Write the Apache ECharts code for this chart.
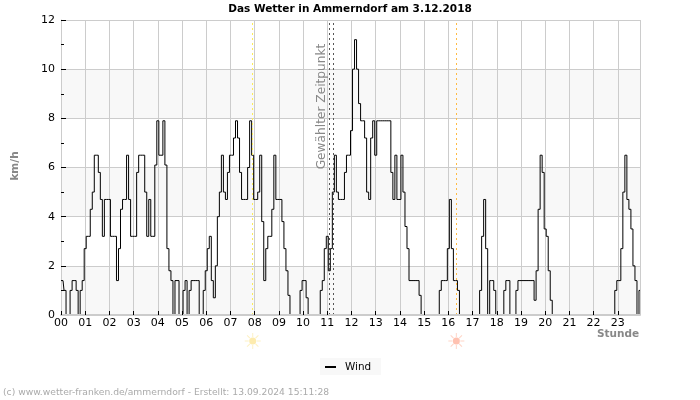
<!DOCTYPE html>
<html><head><meta charset="utf-8">
<script src="https://cdn.jsdelivr.net/npm/echarts@6/dist/echarts.min.js"></script>
<style>html,body{margin:0;padding:0;background:#fff}#c{width:700px;height:400px}</style>
</head><body><div id="c"></div>
<script>
const titleText = 'Das Wetter in Ammerndorf am 3.12.2018';
const seriesName = 'Wind';
const yTicks = [0, 2, 4, 6, 8, 10, 12];
const sunTimes = [7.92, 16.33];
const selectedTimes = [11.08, 11.25];
// wind in km/h, one value every 5 minutes
const windValues = [
 1.4,1.4,1.0,0,0,1.0,1.4,1.4,1.0,0,1.0,1.4,
 2.7,3.2,3.2,4.3,5,6.5,6.5,5.8,4.7,3.2,4.7,4.7,
 4.7,3.2,3.2,3.2,1.4,2.7,4.3,4.7,4.7,6.5,4.7,3.2,
 3.2,3.2,5.8,6.5,6.5,6.5,5,3.2,4.7,3.2,3.2,6.1,
 7.9,6.5,6.5,7.9,6.1,2.7,1.8,1.4,0,1.4,1.4,0,
 0,1.0,1.4,0,1.0,1.4,1.4,1.4,1.4,0,0,1.0,
 1.8,2.7,3.2,1.4,0.7,2,4,5,6.5,5,4.7,5.8,
 6.5,6.5,7.2,7.9,7.2,5.8,4.7,4.7,4.7,6,7.9,6.5,
 4.7,4.7,5,6.5,3.8,1.4,2.7,3.2,3.2,4.3,6.5,4.7,
 4.7,4.7,3.8,2.7,1.8,0.8,0,0,0,0,0,1.0,
 1.4,1.4,0.7,0,0,0,0,0,0,1.0,1.4,
 2.7,3.2,1.8,2.7,5,6.5,5,4.7,4.7,4.7,5.8,6.5,
 6.5,7.5,10,11.2,10,8.6,7.9,7.9,7.2,5,4.7,7.2,
 7.9,6.5,7.9,7.9,7.9,7.9,7.9,7.9,7.9,5.8,4.7,6.5,
 4.7,4.7,6.5,5,3.6,2.7,1.4,1.4,1.4,1.4,1.4,0.8,
 0,0,0,0,0,0,0,0,0,1.0,1.4,1.4,
 1.4,2.7,4.7,2.7,1.4,1.4,1.0,0,0,0,0,0,
 0,0,0,0,0,1.0,3.2,4.7,2.7,0,1.4,1.4,
 1.0,0,0,0,0,1.0,1.4,1.4,0,0,0,1.0,
 1.4,1.4,1.4,1.4,1.4,1.4,1.4,1.4,0.6,1.8,4.3,6.5,
 5.8,3.5,3.2,1.8,0.6,0,0,0,0,0,0,0,
 0,0,0,0,0,0,0,0,0,0,0,
 0,0,0,0,0,0,0,0,0,0,0,0,
 0,1.0,1.4,1.4,2.7,5,6.5,4.7,4.3,3.5,2,1.4,
 0,1.0
];
const points = windValues.map((v, i) => [i / 12, v]);
const lastHour = (windValues.length - 1) / 12;

const rays = 'path://M9.4 0h1.2v5h-1.2zM9.4 15h1.2v5h-1.2zM0 9.4h5v1.2h-5zM15 9.4h5v1.2h-5zM2.5 3.4l.9-.9 3.5 3.5-.9.9zM13.1 14l.9-.9 3.5 3.5-.9.9zM16.6 2.5l.9.9-3.5 3.5-.9-.9zM6 13.1l.9.9-3.5 3.5-.9-.9z';
const sunColors = ['#fdeeb4', '#ffc9b8'];
const coreColors = ['#fde698', '#ffb29c'];
const sunRow = -1.06;

const vLine = (t, color) => ({
  xAxis: t,
  lineStyle: { color, type: [2, 3], width: 1 }
});

const chart = echarts.init(document.getElementById('c'), null, { renderer: 'canvas' });
chart.setOption({
  animation: false,
  backgroundColor: '#fff',
  textStyle: { fontFamily: 'DejaVu Sans' },
  title: {
    text: titleText, left: 345, top: -1, textAlign: 'center',
    textStyle: { fontSize: 10.5, fontWeight: 'bold', color: '#000', fontFamily: 'DejaVu Sans' }
  },
  legend: {
    data: [seriesName], left: 320, top: 358, padding: [4, 10, 3, 5],
    backgroundColor: '#f8f8f8',
    icon: 'rect', itemWidth: 11, itemHeight: 2, itemGap: 9,
    textStyle: { fontSize: 10.4, color: '#000', fontFamily: 'DejaVu Sans', padding: [0, 0, 0, 4] }
  },
  grid: { left: 61, right: 60, top: 20, bottom: 85, show: false },
  xAxis: [{
    type: 'value', min: 0, max: lastHour, interval: 1,
    axisLine: { show: false }, axisTick: { show: false }, axisLabel: { show: false },
    splitLine: { show: true, lineStyle: { color: '#ccc', width: 1 } }
  }, {
    type: 'value', min: 0, max: lastHour, interval: 1, position: 'bottom', z: 5,
    axisLine: { show: true, onZero: false, lineStyle: { color: '#ccc', width: 2 } },
    axisTick: { show: true, inside: true, length: 4, lineStyle: { color: '#000', width: 1 } },
    axisLabel: {
      show: true, fontSize: 11, color: '#000', margin: 3, fontFamily: 'DejaVu Sans',
      showMaxLabel: false,
      formatter: v => (Number.isInteger(v) ? String(v).padStart(2, '0') : '')
    },
    splitLine: { show: false }
  }],
  yAxis: {
    type: 'value', min: yTicks[0], max: yTicks[yTicks.length - 1], interval: 2,
    axisLine: { show: true, lineStyle: { color: '#ccc', width: 1 } },
    axisTick: { show: true, inside: true, length: 5, lineStyle: { color: '#000', width: 1 } },
    minorTick: { show: true, splitNumber: 2, length: 3, lineStyle: { color: '#000', width: 1 } },
    axisLabel: { fontSize: 11, color: '#000', margin: 6, fontFamily: 'DejaVu Sans' },
    splitLine: { show: true, lineStyle: { color: '#ccc', width: 1 } },
    splitArea: { show: true, areaStyle: { color: ['#f8f8f8', '#ffffff'] } }
  },
  series: [{
    name: seriesName, type: 'line', xAxisIndex: 0, step: 'middle', showSymbol: false, symbol: 'none',
    data: points, z: 3,
    lineStyle: { color: '#000', width: 1 }, itemStyle: { color: '#000' },
    markLine: {
      silent: true, symbol: 'none', animation: false, label: { show: false },
      data: [
        vLine(sunTimes[0], '#ffee55'), vLine(sunTimes[1], '#ffbb44'),
        vLine(selectedTimes[0], '#555'), vLine(selectedTimes[1], '#555')
      ]
    }
  }, {
    type: 'scatter', xAxisIndex: 0, clip: false, symbol: rays, symbolSize: 16, z: 2, silent: true,
    data: sunTimes.map((t, i) => ({ value: [t, sunRow], itemStyle: { color: sunColors[i] } }))
  }, {
    type: 'scatter', xAxisIndex: 0, clip: false, symbol: 'circle', symbolSize: 7, z: 3, silent: true,
    data: sunTimes.map((t, i) => ({ value: [t, sunRow], itemStyle: { color: coreColors[i] } }))
  }],
  graphic: [
    { type: 'text', x: 322, y: 106.5, rotation: Math.PI / 2, z: 10, silent: true,
      style: { text: 'Gewählter Zeitpunkt', fill: '#888', font: '12.2px "DejaVu Sans"', align: 'center', verticalAlign: 'middle' } },
    { type: 'text', x: 15, y: 166, rotation: Math.PI / 2, z: 10, silent: true,
      style: { text: 'km/h', fill: '#888', font: 'bold 10.5px "DejaVu Sans"', align: 'center', verticalAlign: 'middle' } },
    { type: 'text', x: 618, y: 334.5, z: 10, silent: true,
      style: { text: 'Stunde', fill: '#888', font: 'bold 10.5px "DejaVu Sans"', align: 'center', verticalAlign: 'middle' } },
    { type: 'text', x: 3, y: 393, z: 10, silent: true,
      style: { text: '(c) www.wetter-franken.de/ammerndorf - Erstellt: 13.09.2024 15:11:28', fill: '#aaa', font: '9.2px "DejaVu Sans"', align: 'left', verticalAlign: 'middle' } }
  ]
});
</script></body></html>
